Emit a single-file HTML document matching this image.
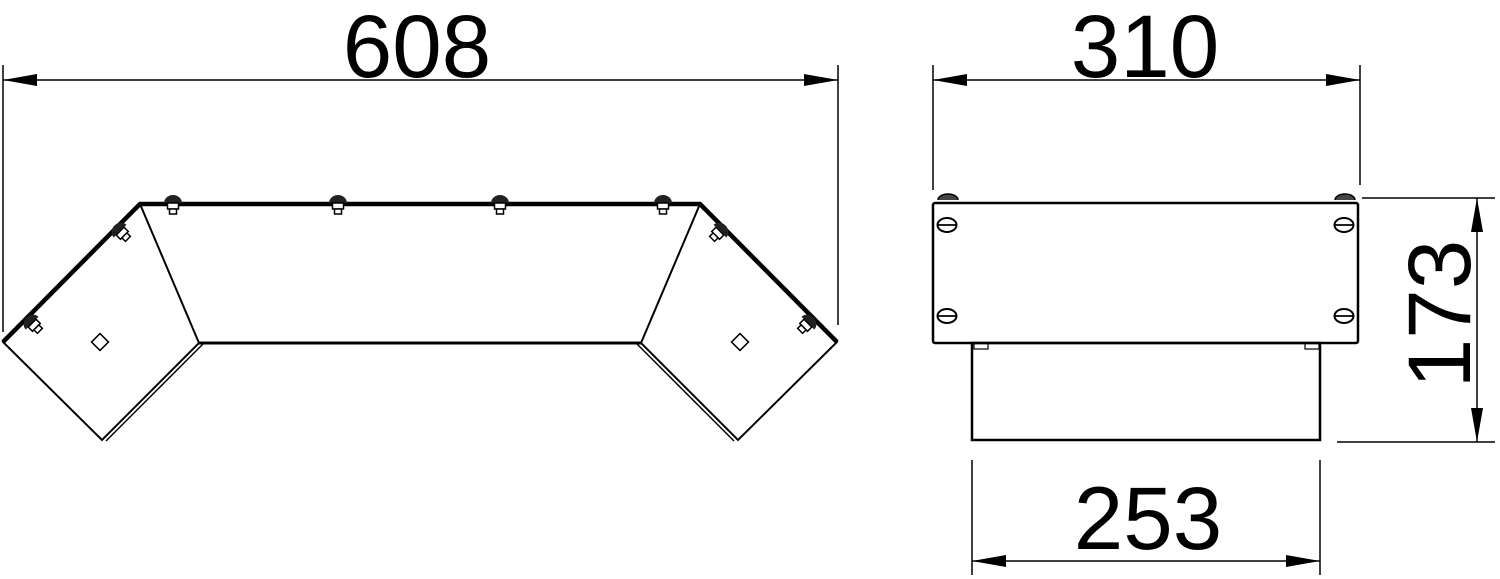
<!DOCTYPE html>
<html><head><meta charset="utf-8"><style>
html,body{margin:0;padding:0;background:#fff;width:1500px;height:579px;overflow:hidden}
text{font-family:"Liberation Sans",Arial,sans-serif;fill:#000}
</style></head><body>
<svg width="1500" height="579" viewBox="0 0 1500 579" xmlns="http://www.w3.org/2000/svg">
<defs>
<marker id="a" viewBox="0 0 34 12" refX="34" refY="6" markerWidth="34" markerHeight="12" markerUnits="userSpaceOnUse" orient="auto-start-reverse"><path d="M0,0 L34,6 L0,12 Z" fill="#000"/></marker>
<g id="nut"><path d="M-9,3 A9,8 0 0 1 9,3 Z" fill="#222"/><rect x="-5.5" y="3" width="11" height="6" fill="#fff" stroke="#000" stroke-width="1.5"/><rect x="-3.5" y="9" width="7" height="5" fill="#fff" stroke="#000" stroke-width="1.5"/></g>
<g id="slot"><ellipse cx="0" cy="0" rx="9.5" ry="7" fill="#fff" stroke="#000" stroke-width="2"/><line x1="-9.5" y1="0" x2="9.5" y2="0" stroke="#000" stroke-width="1.8"/></g>
</defs>
<g stroke="#000" fill="none">
<line x1="3" y1="65" x2="3" y2="332" stroke-width="1.5"/>
<line x1="838" y1="65" x2="838" y2="325" stroke-width="1.5"/>
<line x1="3" y1="80" x2="838" y2="80" stroke-width="1.5" marker-start="url(#a)" marker-end="url(#a)"/>
<polygon points="3,342 140,204 199,343 102,440" stroke-width="2"/>
<polygon points="837,342 700,204 641,343 738,440" stroke-width="2"/>
<line x1="199" y1="343" x2="641" y2="343" stroke-width="3"/>
<line x1="104" y1="440" x2="201" y2="343" stroke-width="1.5" transform="translate(2,1)"/>
<line x1="736" y1="440" x2="639" y2="343" stroke-width="1.5" transform="translate(-2,1)"/>
<polyline points="3,342 140,204 700,204 837,342" stroke-width="4.5"/>
<rect x="94" y="336" width="12" height="12" transform="rotate(45 100 342)" stroke-width="1.5"/>
<rect x="734" y="336" width="12" height="12" transform="rotate(45 740 342)" stroke-width="1.5"/>
</g>
<use href="#nut" x="173" y="200"/><use href="#nut" x="338" y="200"/><use href="#nut" x="500" y="200"/><use href="#nut" x="663" y="200"/>
<use href="#nut" transform="translate(118,229) rotate(-45)"/>
<use href="#nut" transform="translate(30,321) rotate(-45)"/>
<use href="#nut" transform="translate(722,229) rotate(45)"/>
<use href="#nut" transform="translate(810,321) rotate(45)"/>
<text x="417" y="77" font-size="89" text-anchor="middle">608</text>
<g stroke="#000" fill="none">
<line x1="933" y1="65" x2="933" y2="190" stroke-width="1.5"/>
<line x1="1360" y1="65" x2="1360" y2="185" stroke-width="1.5"/>
<line x1="933" y1="80" x2="1360" y2="80" stroke-width="1.5" marker-start="url(#a)" marker-end="url(#a)"/>
<path d="M938,200 A10,6 0 0 1 958,200 M1335,200 A10,6 0 0 1 1355,200" fill="#444" stroke-width="1.5"/>
<rect x="933" y="203" width="425" height="140" rx="2" stroke-width="2.5"/>
<rect x="972" y="343" width="348" height="97" stroke-width="2.5"/>
<rect x="974" y="343" width="14" height="6" stroke-width="1.2"/>
<rect x="1305" y="343" width="14" height="6" stroke-width="1.2"/>
<line x1="1362" y1="198" x2="1495" y2="198" stroke-width="1.5"/>
<line x1="1337" y1="442" x2="1495" y2="442" stroke-width="1.5"/>
<line x1="1477" y1="198" x2="1477" y2="442" stroke-width="1.5" marker-start="url(#a)" marker-end="url(#a)"/>
<line x1="972" y1="460" x2="972" y2="575" stroke-width="1.5"/>
<line x1="1320" y1="460" x2="1320" y2="575" stroke-width="1.5"/>
<line x1="972" y1="561" x2="1320" y2="561" stroke-width="1.5" marker-start="url(#a)" marker-end="url(#a)"/>
</g>
<use href="#slot" x="947" y="225"/><use href="#slot" x="1344" y="225"/>
<use href="#slot" x="947" y="316"/><use href="#slot" x="1344" y="316"/>
<text x="1145" y="77" font-size="89" text-anchor="middle">310</text>
<text x="1148" y="549" font-size="89" text-anchor="middle">253</text>
<text font-size="89" text-anchor="middle" transform="translate(1470,314) rotate(-90)">173</text>
</svg>
</body></html>
